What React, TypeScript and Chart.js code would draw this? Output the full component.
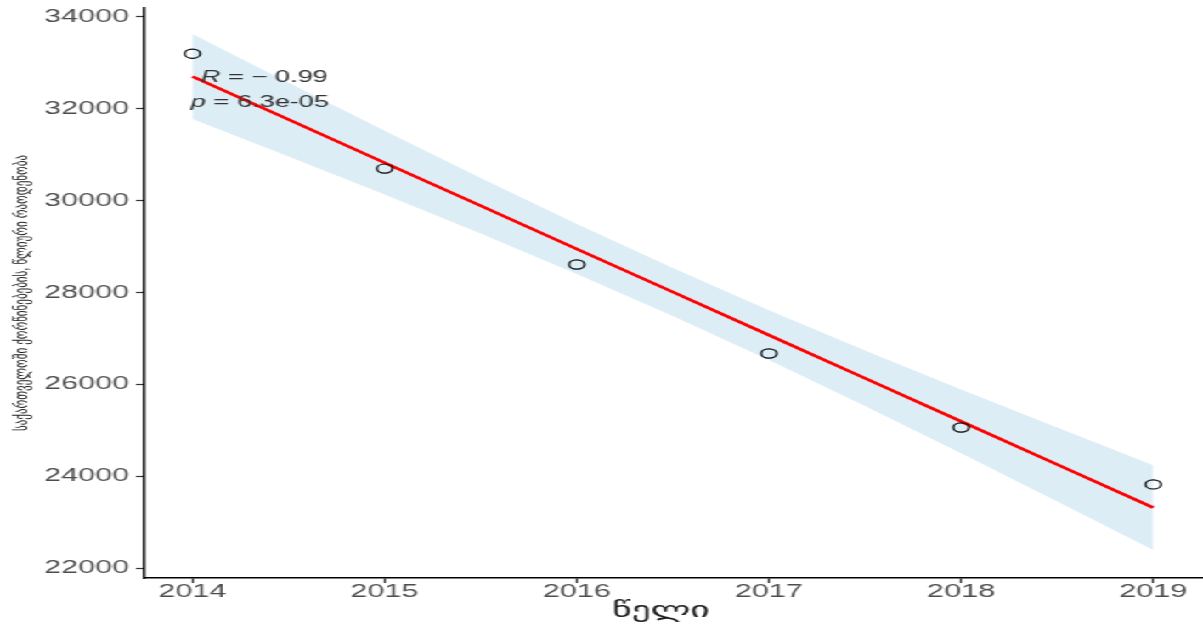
import React, { useEffect, useRef } from "react";
import { Chart, registerables } from "chart.js";

Chart.register(...registerables);

// ---- data ----
const years = [2014, 2015, 2016, 2017, 2018, 2019];
const observed = [33196, 30696, 28609, 26674, 25065, 23826];

const fitYears = [2014, 2014.5, 2015, 2015.5, 2016, 2016.5, 2017, 2017.5, 2018, 2018.5, 2019];
const fitValues = [32701, 31763, 30825, 29887, 28949, 28011, 27073, 26135, 25197, 24259, 23321];
const ciUpper = [33625, 32566, 31519, 30491, 29492, 28532, 27616, 26739, 25891, 25062, 24245];
const ciLower = [31777, 30960, 30131, 29283, 28406, 27490, 26530, 25531, 24503, 23456, 22397];

const xTicks = [2014, 2015, 2016, 2017, 2018, 2019];
const yTicks = [22000, 24000, 26000, 28000, 30000, 32000, 34000];

const xTitle = "წელი";
const yTitle = "საქართველოში ქორწინებების, წლიური რაოდენობა";

const statLabelX = 2014;
const statR = { italic: "R", rest: " = − 0.99", y: 32680 };
const statP = { italic: "p", rest: " = 6.3e-05", y: 32130 };

// ---- layout ----
const LOGICAL_W = 708;
const H = 624;
const STRETCH = 1203 / LOGICAL_W;
const FONT = '"Liberation Sans", Arial, "DejaVu Sans", sans-serif';

const textPlugin = {
  id: "texts",
  afterDraw(chart: any) {
    const ctx = chart.ctx as CanvasRenderingContext2D;
    const area = chart.chartArea;
    const xs = chart.scales.x;
    const ys = chart.scales.y;
    ctx.save();
    // x tick labels
    ctx.fillStyle = "#4d4d4d";
    ctx.font = `18px ${FONT}`;
    ctx.textAlign = "center";
    ctx.textBaseline = "middle";
    xTicks.forEach((v) => {
      ctx.fillText(String(v), xs.getPixelForValue(v), area.bottom + 14);
    });
    // x title
    ctx.fillStyle = "#1a1a1a";
    ctx.font = `22px ${FONT}`;
    ctx.fillText(xTitle, (area.left + area.right) / 2 - 7, area.bottom + 33);
    // y title
    ctx.save();
    ctx.translate(13, (area.top + area.bottom) / 2);
    ctx.rotate(-Math.PI / 2);
    ctx.font = `11px ${FONT}`;
    ctx.fillText(yTitle, 0, 0);
    ctx.restore();
    // stat labels
    ctx.textAlign = "left";
    ctx.fillStyle = "#333333";
    const drawStat = (s: any, dx: number) => {
      const px = xs.getPixelForValue(statLabelX) + dx;
      const py = ys.getPixelForValue(s.y);
      ctx.font = `italic 16px ${FONT}`;
      ctx.fillText(s.italic, px, py);
      const w = ctx.measureText(s.italic).width;
      ctx.font = `16px ${FONT}`;
      ctx.fillText(s.rest, px + w, py);
    };
    drawStat(statR, 5);
    drawStat(statP, -1);
    ctx.restore();
  },
};

export default function App() {
  const ref = useRef<HTMLCanvasElement | null>(null);
  useEffect(() => {
    if (!ref.current) return;
    const chart = new Chart(ref.current, {
      type: "scatter",
      data: {
        datasets: [
          {
            label: "observed",
            data: years.map((x, i) => ({ x, y: observed[i] })),
            pointRadius: 4.6,
            pointBorderColor: "#000000",
            pointBackgroundColor: "rgba(255,255,255,0)",
            pointBorderWidth: 1.2,
            showLine: false,
          } as any,
          {
            label: "fit",
            data: fitYears.map((x, i) => ({ x, y: fitValues[i] })),
            showLine: true,
            borderColor: "#ff0000",
            borderWidth: 2.6,
            pointRadius: 0,
            fill: false,
          } as any,
          {
            label: "lower",
            data: fitYears.map((x, i) => ({ x, y: ciLower[i] })),
            showLine: true,
            borderColor: "transparent",
            borderWidth: 0,
            pointRadius: 0,
            fill: false,
          } as any,
          {
            label: "upper",
            data: fitYears.map((x, i) => ({ x, y: ciUpper[i] })),
            showLine: true,
            borderColor: "transparent",
            borderWidth: 0,
            pointRadius: 0,
            backgroundColor: "rgb(220,237,245)",
            fill: "-1",
          } as any,
        ],
      },
      options: {
        animation: false,
        responsive: false,
        devicePixelRatio: 1,
        layout: { autoPadding: false, padding: { top: 8, right: 1, left: 0, bottom: 0 } },
        plugins: {
          legend: { display: false },
          tooltip: { enabled: false },
        },
        scales: {
          x: {
            type: "linear",
            min: 2013.75,
            max: 2019.25,
            afterBuildTicks: (s: any) => {
              s.ticks = xTicks.map((v) => ({ value: v }));
            },
            afterFit: (s: any) => {
              s.height = 46;
              s.paddingLeft = 0;
              s.paddingRight = 0;
            },
            ticks: { display: false },
            grid: {
              display: true,
              drawOnChartArea: false,
              drawTicks: true,
              tickLength: 5,
              tickColor: "#333333",
              tickWidth: 1.2,
            },
            border: { display: true, color: "#000000", width: 1.5 },
          },
          y: {
            type: "linear",
            min: 21790,
            max: 34190,
            afterBuildTicks: (s: any) => {
              s.ticks = yTicks.map((v) => ({ value: v }));
            },
            afterFit: (s: any) => {
              s.width = 85;
              s.paddingTop = 0;
              s.paddingBottom = 0;
            },
            ticks: {
              color: "#4d4d4d",
              font: { size: 18, family: FONT },
              padding: 4,
              autoSkip: false,
              callback: (v: any) => String(v),
            },
            grid: {
              display: true,
              drawOnChartArea: false,
              drawTicks: true,
              tickLength: 5,
              tickColor: "#333333",
              tickWidth: 1.2,
            },
            border: { display: true, color: "#000000", width: 1.5 },
          },
        },
      } as any,
      plugins: [textPlugin],
    });
    return () => chart.destroy();
  }, []);

  return (
    <div
      style={{
        position: "fixed",
        left: 0,
        top: 0,
        width: LOGICAL_W,
        height: H,
        transform: `scaleX(${STRETCH})`,
        transformOrigin: "0 0",
        background: "#ffffff",
      }}
    >
      <canvas ref={ref} width={LOGICAL_W} height={H} style={{ display: "block" }} />
    </div>
  );
}
